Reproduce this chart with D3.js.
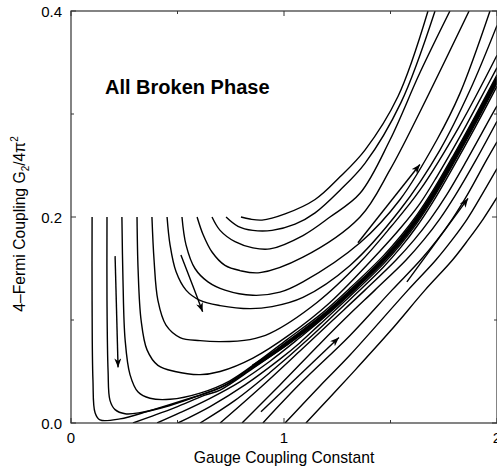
<!DOCTYPE html>
<html>
<head>
<meta charset="utf-8">
<script src="https://cdn.jsdelivr.net/npm/d3@7"></script>
<style>
body { margin: 0; background: #fff; }
text { font-family: "Liberation Sans", Arial, Helvetica, sans-serif; fill: #000; }
</style>
</head>
<body>
<div id="chart"></div>
<script>
// flow lines, [gauge coupling, G2/4pi^2]
// lines that start at G2/4pi^2 = 0.2 (L1 runs into the attracting line)
var L1 = [[0.099,0.2],[0.099,0.119],[0.103,0.042],[0.113,0.010],[0.136,0.003],[0.230,0.004],[0.371,0.012],[0.559,0.024],[0.700,0.034],[0.854,0.055],[1.014,0.077],[1.169,0.101],[1.310,0.127],[1.465,0.158],[1.550,0.178],[1.624,0.198],[1.700,0.222],[1.793,0.255],[1.900,0.295],[2.0,0.334]];
var L2 = [[0.169,0.2],[0.169,0.119],[0.174,0.051],[0.183,0.022],[0.207,0.013],[0.254,0.009],[0.324,0.010],[0.465,0.017],[0.606,0.027],[0.746,0.039],[0.887,0.059],[1.014,0.079],[1.169,0.103],[1.310,0.129],[1.465,0.160],[1.550,0.180],[1.624,0.200],[1.700,0.224],[1.793,0.257],[1.900,0.297],[2.0,0.336]];
var L3 = [[0.239,0.2],[0.244,0.139],[0.254,0.081],[0.277,0.047],[0.315,0.030],[0.371,0.024],[0.465,0.023],[0.606,0.029],[0.746,0.041],[0.887,0.061],[1.014,0.081],[1.169,0.105],[1.310,0.131],[1.465,0.162],[1.550,0.182],[1.624,0.202],[1.700,0.226],[1.793,0.259],[1.900,0.299],[2.0,0.338]];
var L4 = [[0.310,0.2],[0.315,0.149],[0.329,0.100],[0.357,0.071],[0.408,0.056],[0.488,0.050],[0.606,0.047],[0.700,0.050],[0.854,0.063],[1.028,0.086],[1.216,0.117],[1.451,0.167],[1.550,0.190],[1.638,0.213],[1.720,0.240],[1.826,0.278],[1.920,0.314],[2.0,0.345]];
var L5 = [[0.380,0.2],[0.390,0.158],[0.408,0.119],[0.446,0.095],[0.512,0.083],[0.606,0.080],[0.700,0.079],[0.840,0.081],[0.934,0.087],[1.155,0.117],[1.357,0.156],[1.500,0.190],[1.638,0.226],[1.826,0.289],[2.0,0.357]];
var L6 = [[0.451,0.2],[0.465,0.173],[0.493,0.147],[0.540,0.129],[0.606,0.119],[0.700,0.114],[0.840,0.111],[0.944,0.113],[1.089,0.122],[1.310,0.153],[1.545,0.207],[1.732,0.265],[1.873,0.323],[2.0,0.386]];
var L7 = [[0.521,0.2],[0.540,0.173],[0.582,0.150],[0.643,0.137],[0.723,0.129],[0.854,0.124],[0.981,0.127],[1.089,0.137],[1.357,0.175],[1.545,0.217],[1.718,0.275],[1.826,0.320],[1.967,0.4]];
var L8 = [[0.592,0.2],[0.620,0.183],[0.662,0.166],[0.723,0.153],[0.793,0.148],[0.887,0.146],[1.089,0.161],[1.357,0.2],[1.498,0.246],[1.638,0.302],[1.869,0.4]];
var L9 = [[0.662,0.2],[0.700,0.187],[0.770,0.176],[0.854,0.170],[0.934,0.169],[1.089,0.182],[1.216,0.2],[1.357,0.223],[1.498,0.275],[1.638,0.340],[1.779,0.4]];
var L10 = [[0.728,0.2],[0.784,0.191],[0.854,0.187],[0.944,0.187],[1.052,0.193],[1.146,0.204],[1.263,0.226],[1.380,0.252],[1.549,0.311],[1.709,0.4]];
var L11 = [[0.798,0.2],[0.840,0.198],[0.897,0.197],[1.005,0.203],[1.146,0.217],[1.263,0.239],[1.380,0.265],[1.535,0.317],[1.676,0.4]];

// lines that start at G2/4pi^2 = 0
var G1 = [[0.291,0],[0.371,0.006],[0.488,0.015],[0.629,0.027],[0.700,0.032],[0.854,0.053],[1.014,0.076],[1.169,0.100],[1.310,0.126],[1.465,0.157],[1.550,0.177],[1.624,0.197],[1.700,0.221],[1.793,0.254],[1.900,0.294],[2.0,0.333]];
var G2 = [[0.404,0],[0.512,0.010],[0.653,0.024],[0.793,0.040],[0.934,0.060],[1.075,0.083],[1.169,0.099],[1.310,0.125],[1.465,0.156],[1.550,0.176],[1.624,0.196],[1.700,0.220],[1.793,0.253],[1.900,0.293],[2.0,0.332]];
var G3 = [[0.502,0],[0.653,0.016],[0.817,0.037],[0.981,0.062],[1.075,0.078],[1.169,0.096],[1.310,0.123],[1.465,0.154],[1.550,0.174],[1.624,0.194],[1.700,0.218],[1.793,0.251],[1.900,0.291],[2.0,0.330]];
var G4 = [[0.606,0],[0.770,0.022],[0.934,0.049],[1.122,0.083],[1.310,0.120],[1.465,0.151],[1.550,0.171],[1.624,0.191],[1.700,0.215],[1.793,0.248],[1.900,0.288],[2.0,0.327]];
var G5 = [[0.700,0],[0.887,0.034],[1.075,0.070],[1.230,0.100],[1.380,0.129],[1.525,0.158],[1.612,0.178],[1.687,0.198],[1.765,0.222],[1.858,0.255],[1.965,0.295],[2.0,0.308]];
var G6 = [[0.803,0],[0.981,0.037],[1.169,0.077],[1.310,0.106],[1.427,0.129],[1.572,0.158],[1.657,0.178],[1.731,0.198],[1.807,0.222],[1.900,0.255],[2.0,0.293]];
var G7 = [[0.901,0],[1.075,0.038],[1.310,0.085],[1.507,0.129],[1.640,0.158],[1.720,0.178],[1.790,0.198],[1.862,0.222],[1.950,0.255],[2.0,0.273]];
var G8 = [[1.005,0],[1.169,0.036],[1.310,0.066],[1.582,0.129],[1.712,0.158],[1.790,0.178],[1.860,0.198],[1.930,0.222],[2.0,0.247]];
var G9 = [[1.103,0],[1.216,0.025],[1.310,0.046],[1.498,0.089],[1.662,0.129],[1.790,0.158],[1.865,0.178],[1.935,0.198],[2.0,0.219]];

// short segments carrying the flow arrows
var A1 = [[0.207,0.162],[0.221,0.054]];
var A2 = [[0.516,0.163],[0.565,0.137],[0.618,0.108]];
var A3 = [[1.347,0.175],[1.638,0.251]];
var A4 = [[1.577,0.137],[1.864,0.218]];
var A5 = [[0.892,0.011],[1.258,0.083]];

var flowLines = [L1, L2, L3, L4, L5, L6, L7, L8, L9, L10, L11, G1, G2, G3, G4, G5, G6, G7, G8, G9];
var arrowLines = [A1, A2, A3, A4, A5];
var bandStart = 0.72;

var xTicks = [0, 1, 2];
var xMinor = [0.5, 1.5];
var yTicks = [0, 0.2, 0.4];
var yMinor = [0.1, 0.3];

var width = 497;
var height = 470;

var x = d3.scaleLinear().domain([0, 2]).range([71, 497]);
var y = d3.scaleLinear().domain([0, 0.4]).range([423, 11]);

var svg = d3.select("#chart")
    .append("svg")
    .attr("width", width)
    .attr("height", height);

svg.append("defs").append("clipPath")
    .attr("id", "plot")
    .append("rect")
    .attr("x", x(0))
    .attr("y", y(0.4))
    .attr("width", x(2) - x(0))
    .attr("height", y(0) - y(0.4));

svg.select("defs").append("marker")
    .attr("id", "head")
    .attr("markerUnits", "userSpaceOnUse")
    .attr("markerWidth", 10)
    .attr("markerHeight", 8)
    .attr("refX", 9)
    .attr("refY", 3.5)
    .attr("orient", "auto")
    .append("path")
    .attr("d", "M0,0 L9,3.5 L0,7 L2.5,3.5 z")
    .attr("fill", "#000");

var line = d3.line()
    .x(function (d) { return x(d[0]); })
    .y(function (d) { return y(d[1]); })
    .curve(d3.curveCatmullRom.alpha(0.5));

var g = svg.append("g").attr("clip-path", "url(#plot)");

g.selectAll("path.flow")
    .data(flowLines)
    .enter().append("path")
    .attr("class", "flow")
    .attr("d", line)
    .attr("fill", "none")
    .attr("stroke", "#000")
    .attr("stroke-width", 1.4);

// the heavy attracting line
g.append("path")
    .datum(L1.filter(function (d) { return d[0] >= bandStart; }))
    .attr("d", line)
    .attr("fill", "none")
    .attr("stroke", "#000")
    .attr("stroke-width", 3.6);

g.selectAll("path.arrow")
    .data(arrowLines)
    .enter().append("path")
    .attr("class", "arrow")
    .attr("d", line)
    .attr("fill", "none")
    .attr("stroke", "#000")
    .attr("stroke-width", 1.4)
    .attr("marker-end", "url(#head)");

// frame
svg.append("rect")
    .attr("x", x(0))
    .attr("y", y(0.4))
    .attr("width", x(2) - x(0))
    .attr("height", y(0) - y(0.4))
    .attr("fill", "none")
    .attr("stroke", "#333")
    .attr("stroke-width", 1.2);

// inward ticks on all four sides
function ticks(vals, len, horiz) {
    vals.forEach(function (v) {
        if (horiz) {
            svg.append("line").attr("x1", x(v)).attr("x2", x(v)).attr("y1", y(0)).attr("y2", y(0) - len).attr("stroke", "#333");
            svg.append("line").attr("x1", x(v)).attr("x2", x(v)).attr("y1", y(0.4)).attr("y2", y(0.4) + len).attr("stroke", "#333");
        } else {
            svg.append("line").attr("x1", x(0)).attr("x2", x(0) + len).attr("y1", y(v)).attr("y2", y(v)).attr("stroke", "#333");
            svg.append("line").attr("x1", x(2)).attr("x2", x(2) - len).attr("y1", y(v)).attr("y2", y(v)).attr("stroke", "#333");
        }
    });
}
ticks(xTicks, 5, true);
ticks(xMinor, 3, true);
ticks(yTicks, 5, false);
ticks(yMinor, 3, false);

svg.selectAll("text.ylab")
    .data(yTicks)
    .enter().append("text")
    .attr("class", "ylab")
    .attr("x", x(0) - 9)
    .attr("y", function (d) { return y(d) + 5.5; })
    .attr("text-anchor", "end")
    .style("font-size", "15px")
    .text(d3.format(".1f"));

svg.selectAll("text.xlab")
    .data(xTicks)
    .enter().append("text")
    .attr("class", "xlab")
    .attr("x", function (d) { return x(d); })
    .attr("y", 442.5)
    .attr("text-anchor", "middle")
    .style("font-size", "15px")
    .text(String);

svg.append("text")
    .attr("x", x(1))
    .attr("y", 463)
    .attr("text-anchor", "middle")
    .style("font-size", "15.7px")
    .text("Gauge Coupling Constant");

var yt = svg.append("text")
    .attr("transform", "translate(25,224) rotate(-90)")
    .attr("text-anchor", "middle")
    .style("font-size", "15.7px");
yt.append("tspan").text("4\u2013Fermi Coupling G");
yt.append("tspan").attr("dy", 4).style("font-size", "10px").text("2");
yt.append("tspan").attr("dy", -4).text("/4\u03c0");
yt.append("tspan").attr("dy", -7).style("font-size", "10px").text("2");

svg.append("text")
    .attr("x", 105)
    .attr("y", 94)
    .style("font-size", "20px")
    .style("font-weight", "bold")
    .text("All Broken Phase");
</script>
</body>
</html>
